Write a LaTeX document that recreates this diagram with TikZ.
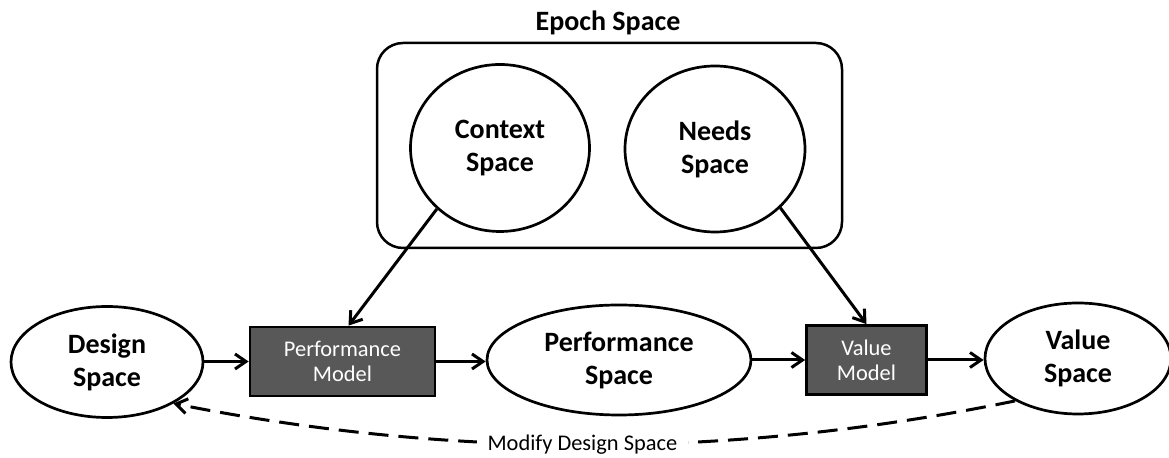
\documentclass[tikz,border=0pt]{standalone}
\usepackage{fontspec}
\setmainfont{Carlito}
\usetikzlibrary{arrows.meta,shapes.geometric}

\definecolor{modelgray}{RGB}{88,88,88}

\tikzset{
  space/.style={ellipse, draw=black, line width=1.35pt, fill=white, inner sep=0pt,
    align=center, font=\fontsize{14}{16.5}\selectfont\bfseries},
  model/.style={rectangle, draw=black, line width=1.35pt, fill=modelgray, inner sep=0pt,
    align=center, text=white, font=\fontsize{11.2}{12.6}\selectfont},
  flow/.style={line width=1.5pt, -{Straight Barb[length=5.5pt,width=7.5pt]}},
  feedback/.style={line width=1.5pt, dash pattern=on 10pt off 5pt,
    -{Straight Barb[length=5.5pt,width=7.5pt]}},
  epochbox/.style={draw=black, line width=1.25pt, rounded corners=13pt}
}

\begin{document}
\begin{tikzpicture}[x=0.5pt, y=-0.5pt]
  \useasboundingbox (0,0) rectangle (1169,458);

  % epoch space frame with its two member spaces
  \draw[epochbox] (377,43) rectangle (842,248);
  \node[font=\fontsize{14}{16.5}\selectfont\bfseries] (epochtitle) at (608,23) {Epoch Space};
  \node[space, minimum width=89.5pt, minimum height=83.5pt] (context) at (500,148) {Context\\Space};
  \node[space, minimum width=90pt, minimum height=83pt] (needs) at (715,149) {Needs\\Space};

  % main chain
  \node[space, minimum width=96pt, minimum height=55.5pt] (design) at (107,362) {Design\\Space};
  \node[model, minimum width=92.5pt, minimum height=34.5pt] (pm) at (342.5,361.5) {Performance\\Model};
  \node[space, minimum width=132pt, minimum height=55pt] (perf) at (619,360) {Performance\\Space};
  \node[model, minimum width=60pt, minimum height=34.5pt] (vm) at (866.5,360) {Value\\Model};
  \node[space, minimum width=93pt, minimum height=55.5pt] (value) at (1078,358.5) {Value\\Space};

  \draw[flow] (design.east |- pm.west) -- (pm.west);
  \draw[flow] (pm.east) -- (perf.west |- pm.east);
  \draw[flow] (perf.east) -- (vm.west |- perf.east);
  \draw[flow] (vm.east) -- (value.west |- vm.east);

  \draw[flow] (context.224) -- ([xshift=3pt]pm.north);
  \draw[flow] (needs.318) -- (vm.north);

  % feedback loop back to the design space
  \draw[feedback] (value.214) .. controls (733,459) and (453,459) .. (design.328)
    node[pos=0.513, fill=white, inner xsep=5.5pt, inner ysep=1pt,
         font=\fontsize{11.2}{12.6}\selectfont] (modify) {Modify Design Space};
\end{tikzpicture}
\end{document}
